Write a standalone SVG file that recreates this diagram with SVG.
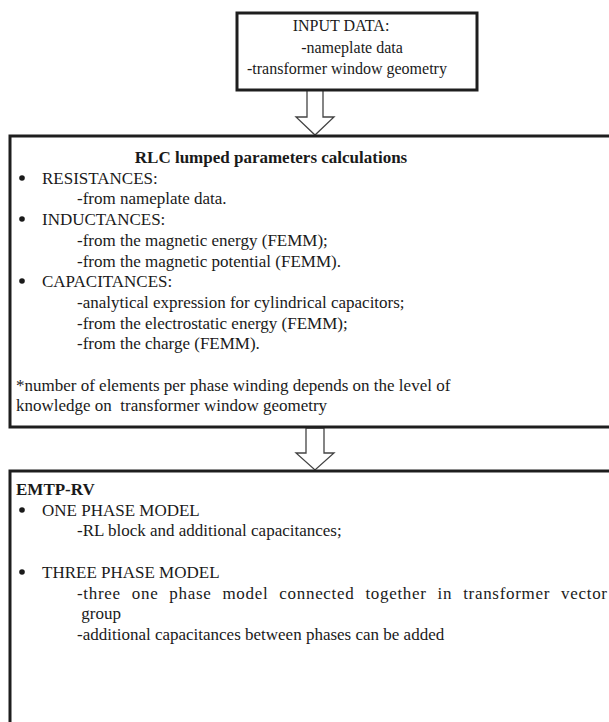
<svg xmlns="http://www.w3.org/2000/svg" width="609" height="722" viewBox="0 0 609 722">
<style>
.box{fill:#fff;stroke:#1e1e1e;stroke-width:3}
.arrow{fill:#fff;stroke:#444;stroke-width:1.3;stroke-linejoin:miter}
text{font-family:'Liberation Serif','Tinos','Times New Roman','DejaVu Serif',serif;font-size:17px;fill:#1a1a1a}
.s{font-size:16px}
.b{font-weight:bold}
.c{text-anchor:middle}
.dot{fill:#1a1a1a}
</style>
<rect width="609" height="722" fill="#fff"/>
<g id="connectors">
<path class="arrow" d="M307,90 L323,90 L323,117 L334,117 L315,135 L296,117 L307,117 Z"/>
<path class="arrow" d="M306,428 L324,428 L324,453 L334,453 L315,470 L296,453 L306,453 Z"/>
</g>
<g id="input" font-family="Liberation Serif, serif">
<rect class="box" x="237" y="13" width="240" height="77"/>
<text class="c s" x="341" y="31">INPUT DATA:</text>
<text class="c s" x="352" y="53">-nameplate data</text>
<text class="s" x="247" y="74">-transformer window geometry</text>
</g>
<g id="rlc" font-family="Liberation Serif, serif">
<rect class="box" x="10" y="136" width="620" height="291"/>
<text class="b c" x="271" y="163">RLC lumped parameters calculations</text>
<circle class="dot" cx="22" cy="178" r="2.8"/>
<text x="42" y="184">RESISTANCES:</text>
<text x="77" y="204.4">-from nameplate data.</text>
<circle class="dot" cx="22" cy="219" r="2.8"/>
<text x="42" y="225.1">INDUCTANCES:</text>
<text x="77" y="245.8">-from the magnetic energy (FEMM);</text>
<text x="77" y="266.5">-from the magnetic potential (FEMM).</text>
<circle class="dot" cx="22" cy="281" r="2.8"/>
<text x="42" y="287.2">CAPACITANCES:</text>
<text x="77" y="307.9">-analytical expression for cylindrical capacitors;</text>
<text x="77" y="328.6">-from the electrostatic energy (FEMM);</text>
<text x="77" y="349.3">-from the charge (FEMM).</text>
<text x="16" y="390.7">*number of elements per phase winding depends on the level of</text>
<text x="16" y="411.4" xml:space="preserve">knowledge on  transformer window geometry</text>
</g>
<g id="emtp" font-family="Liberation Serif, serif">
<rect class="box" x="10" y="471" width="620" height="270"/>
<text class="b" x="16" y="495">EMTP-RV</text>
<circle class="dot" cx="22" cy="510" r="2.8"/>
<text x="42" y="515.7">ONE PHASE MODEL</text>
<text x="77" y="536.4">-RL block and additional capacitances;</text>
<circle class="dot" cx="22" cy="572" r="2.8"/>
<text x="42" y="577.8">THREE PHASE MODEL</text>
<text x="77" y="598.5" word-spacing="6" textLength="530" lengthAdjust="spacing">-three one phase model connected together in transformer vector</text>
<text x="77" y="619.2" xml:space="preserve"> group</text>
<text x="77" y="639.9">-additional capacitances between phases can be added</text>
</g>
</svg>
